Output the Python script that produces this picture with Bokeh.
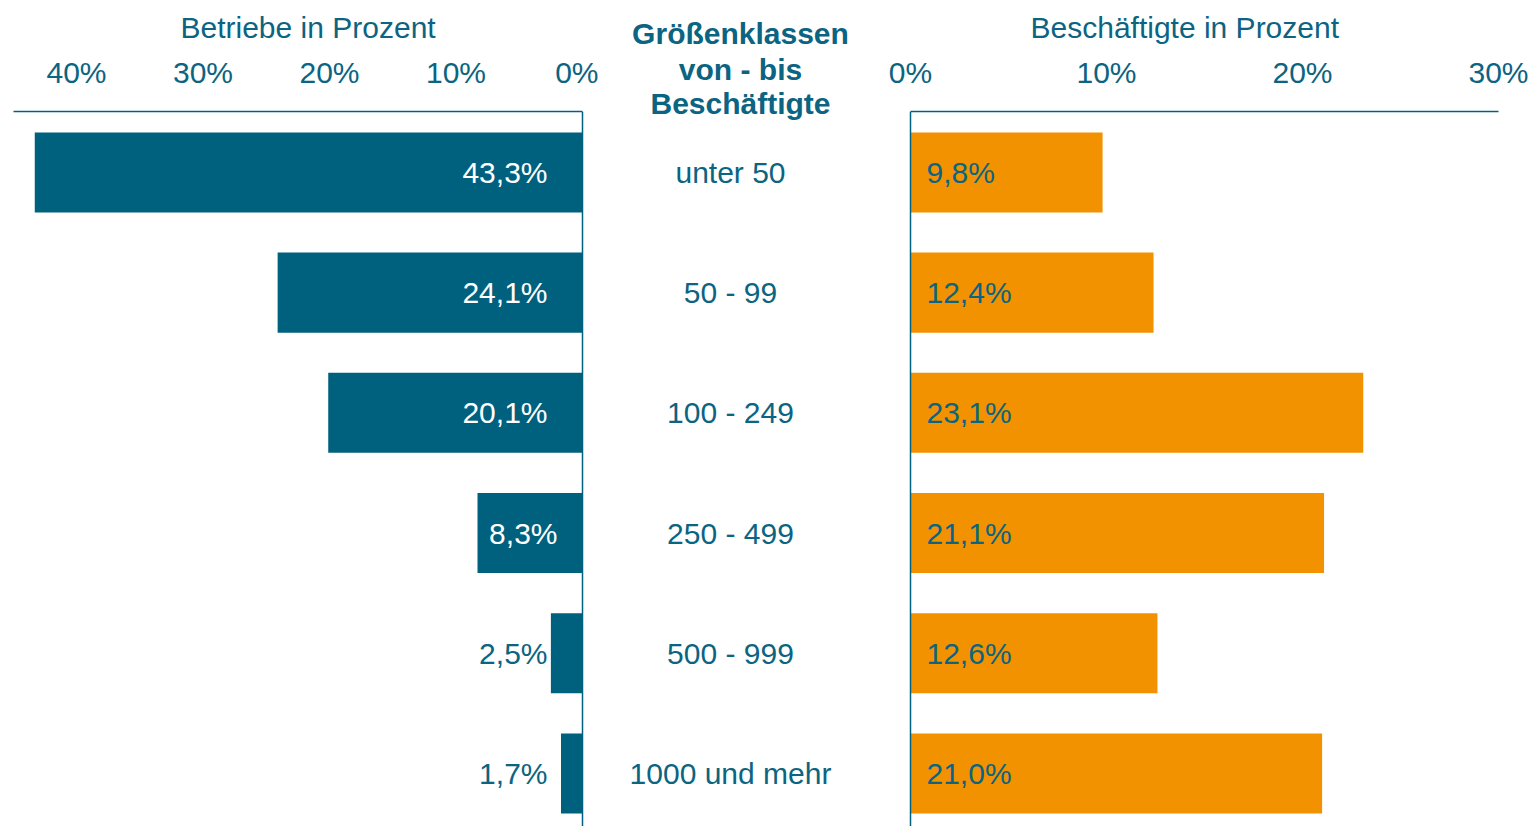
from bokeh.plotting import figure
from bokeh.layouts import row
from bokeh.models import Range1d, Span, ColumnDataSource, FixedTicker, PrintfTickFormatter, Title
from bokeh.core.properties import value
from bokeh.embed import file_html
from bokeh.resources import INLINE

# ---------------- data ----------------
categories = ["unter 50", "50 - 99", "100 - 249", "250 - 499", "500 - 999", "1000 und mehr"]
betriebe = [43.3, 24.1, 20.1, 8.3, 2.5, 1.7]
beschaeftigte = [9.8, 12.4, 23.1, 21.1, 12.6, 21.0]
left_ticks = [0, 10, 20, 30, 40]
right_ticks = [0, 10, 20, 30]
header_lines = ["Größenklassen", "von - bis", "Beschäftigte"]
left_title = "Betriebe in Prozent"
right_title = "Beschäftigte in Prozent"

# ---------------- style ----------------
TEAL = "#00617f"
TEXT = "#0b6481"
ORANGE = "#f39200"
FONT = "Liberation Sans"
FS = "30px"

H = 826
TOP = 111
FRAME_H = H - TOP
BAND = 120.2
y_top = -0.507
y_bot = y_top + FRAME_H / BAND

idx = list(range(len(categories)))


def fmt(v):
    return f"{v:.1f}%".replace(".", ",")


def style_axis(ax, bounds):
    ax.major_label_text_font = FONT
    ax.major_label_text_font_size = FS
    ax.major_label_text_color = TEXT
    ax.major_label_standoff = 17
    ax.major_tick_line_color = None
    ax.minor_tick_line_color = None
    ax.axis_line_color = TEAL
    ax.axis_line_width = 1.5
    ax.formatter = PrintfTickFormatter(format="%d%%")
    ax.bounds = bounds


def base_fig(width, x_range, y_range, mbl, mbr, mbt):
    p = figure(width=width, height=H, x_range=x_range, y_range=y_range,
               toolbar_location=None, output_backend="svg",
               x_axis_location="above", y_axis_location=None,
               min_border_left=mbl, min_border_right=mbr,
               min_border_top=mbt, min_border_bottom=0)
    p.outline_line_color = None
    p.xgrid.grid_line_color = None
    p.ygrid.grid_line_color = None
    p.background_fill_color = "white"
    p.border_fill_color = "white"
    return p


def add_title(p, text, offset):
    p.title = Title(text=text, align="left", offset=offset, standoff=17,
                    text_font=FONT, text_font_size=FS, text_font_style="normal",
                    text_color=TEXT)


# ---------------- left: Betriebe ----------------
LPX = 12.65
lw, lmbl, lmbr = 598, 8, 14
lframe = lw - lmbl - lmbr
left = base_fig(lw, Range1d(start=(lframe - 2) / LPX, end=-2 / LPX),
                Range1d(start=y_bot, end=y_top), lmbl, lmbr, TOP)
lsrc = ColumnDataSource(dict(
    y=idx, v=betriebe, lab=[fmt(v) for v in betriebe],
    col=["white" if v > 5 else TEXT for v in betriebe],
    off=[-25 if 5 < v < 10 else -35 for v in betriebe]))
left.hbar(y="y", left=0, right="v", height=0.666, source=lsrc,
          fill_color=TEAL, line_color=None)
left.text(x=0, y="y", text="lab", source=lsrc, text_align="right",
          text_baseline="middle", x_offset="off", text_color="col",
          text_font=value(FONT), text_font_size=FS)
left.xaxis.ticker = FixedTicker(ticks=left_ticks)
style_axis(left.xaxis[0], (0, 45))
add_title(left, left_title, 172)
left.add_layout(Span(location=0, dimension="height", line_color=TEAL, line_width=1.5))

# ---------------- middle: categories ----------------
mw = 264
mid_top = y_top - TOP / BAND
mid = base_fig(mw, Range1d(0, 1), Range1d(start=y_bot, end=mid_top), 0, 0, 0)
if "frame_align" in mid.properties():
    mid.frame_align = False
mid.xaxis.visible = False
msrc = ColumnDataSource(dict(y=idx, lab=categories))
mid.text(x=0.5, y="y", text="lab", source=msrc, text_align="center",
         text_baseline="middle", text_color=TEXT,
         text_font=value(FONT), text_font_size=FS)
hsrc = ColumnDataSource(dict(y=[mid_top] * len(header_lines), lab=header_lines,
                             off=[33, 69, 103]))
mid.text(x=0.5, y="y", text="lab", source=hsrc, text_align="center",
         text_baseline="middle", x_offset=10, y_offset="off", text_color=TEXT,
         text_font=value(FONT), text_font_size=FS, text_font_style="bold")

# ---------------- right: Beschäftigte ----------------
RPX = 19.6
rw, rmbl = 666, 46
rframe = rw - rmbl
right = base_fig(rw, Range1d(start=-2 / RPX, end=(rframe - 2) / RPX),
                 Range1d(start=y_bot, end=y_top), rmbl, 0, TOP)
rsrc = ColumnDataSource(dict(y=idx, v=beschaeftigte, lab=[fmt(v) for v in beschaeftigte]))
right.hbar(y="y", left=0, right="v", height=0.666, source=rsrc,
           fill_color=ORANGE, line_color=None)
right.text(x=0, y="y", text="lab", source=rsrc, text_align="left",
           text_baseline="middle", x_offset=16, text_color=TEXT,
           text_font=value(FONT), text_font_size=FS)
right.xaxis.ticker = FixedTicker(ticks=right_ticks)
style_axis(right.xaxis[0], (0, 30))
add_title(right, right_title, 122)
right.add_layout(Span(location=0, dimension="height", line_color=TEAL, line_width=1.5))

layout = row(left, mid, right, spacing=0)
open("out.html", "w").write(file_html(layout, INLINE))
